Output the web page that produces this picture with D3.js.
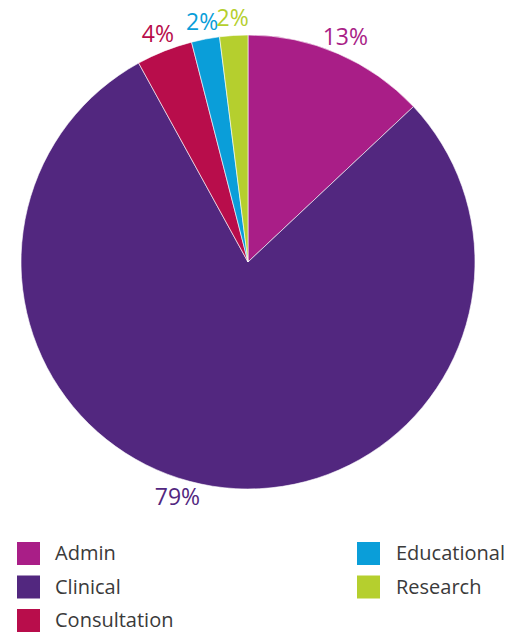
<!DOCTYPE html>
<html>
<head>
<meta charset="utf-8">
<script src="https://cdn.jsdelivr.net/npm/d3@7"></script>
<style>
  body { margin: 0; background: #fff; }
  text { font-family: "Open Sans", sans-serif; }
</style>
</head>
<body>
<svg width="509" height="634"></svg>
<script>
// categories and their shares
var categories = ["Admin", "Clinical", "Consultation", "Educational", "Research"];
var values = [13, 79, 4, 2, 2];
var colors = ["#a91e87", "#52277f", "#b80d4b", "#0a9ed9", "#b5cf2e"];

var svg = d3.select("svg"),
    cx = 248, cy = 262, radius = 227;

var pie = d3.pie().sort(null).value(function(d) { return d; });
var arcs = pie(values);
var arc = d3.arc().innerRadius(0).outerRadius(radius);

var g = svg.append("g").attr("transform", "translate(" + cx + "," + cy + ")");

g.selectAll("path")
  .data(arcs)
  .enter().append("path")
  .attr("d", arc)
  .attr("fill", function(d, i) { return colors[i]; })
  .attr("stroke", "#fff")
  .attr("stroke-width", 0.6);

// big slice label sits a bit off its middle
g.selectAll("text.pct")
  .data(arcs)
  .enter().append("text")
  .attr("class", "pct")
  .attr("transform", function(d, i) {
    var a = (d.startAngle + d.endAngle) / 2;
    if (i === 1) a += 0.135;
    return "translate(" + (245 * Math.sin(a)) + "," + (-245 * Math.cos(a)) + ")";
  })
  .attr("text-anchor", "middle")
  .attr("dy", "0.36em")
  .attr("font-size", 23)
  .attr("fill", function(d, i) { return colors[i]; })
  .text(function(d) { return d.data + "%"; });

// legend, two columns
var legend = svg.append("g");
var item = legend.selectAll("g")
  .data(categories)
  .enter().append("g")
  .attr("transform", function(d, i) {
    var col = i < 3 ? 0 : 1, row = i < 3 ? i : i - 3;
    return "translate(" + (col ? 357 : 17) + "," + (542 + row * 33.5) + ")";
  });

item.append("rect")
  .attr("width", 23).attr("height", 23)
  .attr("fill", function(d, i) { return colors[i]; });

item.append("text")
  .attr("x", function(d, i) { return i < 3 ? 38 : 39; })
  .attr("y", 11.5)
  .attr("dy", "0.34em")
  .attr("font-size", 20)
  .attr("fill", "#3a3a3a")
  .text(function(d) { return d; });
</script>
</body>
</html>
